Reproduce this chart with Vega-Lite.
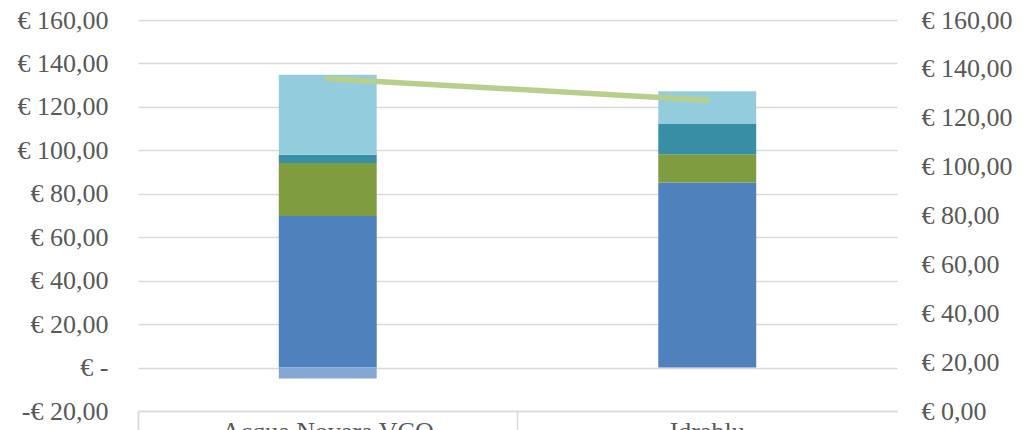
{
  "$schema": "https://vega.github.io/schema/vega-lite/v6.json",
  "autosize": {"type": "none"},
  "width": 759,
  "height": 391,
  "padding": {"left": 138, "top": 20, "right": 134, "bottom": 19},
  "background": "white",
  "config": {
    "view": {"stroke": null},
    "font": "Liberation Serif",
    "axis": {"labelFont": "Liberation Serif", "labelColor": "#595959", "labelFontSize": 26, "titleFont": "Liberation Serif"}
  },
  "datasets": {
    "bars": [
      {"ente": "Acqua Novara VCO", "serie": "Serie 1", "ord": 1, "valore": 69.8},
      {"ente": "Acqua Novara VCO", "serie": "Serie 2", "ord": 2, "valore": 24.4},
      {"ente": "Acqua Novara VCO", "serie": "Serie 3", "ord": 3, "valore": 3.75},
      {"ente": "Acqua Novara VCO", "serie": "Serie 4", "ord": 4, "valore": 36.85},
      {"ente": "Acqua Novara VCO", "serie": "Serie 5", "ord": 5, "valore": -5.0},
      {"ente": "Idrablu", "serie": "Serie 1", "ord": 1, "valore": 85.2},
      {"ente": "Idrablu", "serie": "Serie 2", "ord": 2, "valore": 13.0},
      {"ente": "Idrablu", "serie": "Serie 3", "ord": 3, "valore": 14.15},
      {"ente": "Idrablu", "serie": "Serie 4", "ord": 4, "valore": 14.85},
      {"ente": "Idrablu", "serie": "Serie 5", "ord": 5, "valore": 0}
    ],
    "totale": [
      {"ente": "Acqua Novara VCO", "totale": 136.0},
      {"ente": "Idrablu", "totale": 127.2}
    ]
  },
  "layer": [
    {
      "data": {"name": "bars"},
      "mark": {"type": "bar", "width": {"band": 0.258}},
      "encoding": {
        "x": {
          "field": "ente", "type": "nominal", "sort": null,
          "scale": {"paddingInner": 0, "paddingOuter": 0},
          "axis": {
            "title": null, "labelAngle": 0, "domain": true, "domainColor": "#d9d9d9", "domainWidth": 1.5,
            "ticks": true, "bandPosition": 0, "tickExtra": true, "tickSize": 20, "tickColor": "#d9d9d9", "tickWidth": 1.5,
            "labelPadding": -13, "labelBaseline": "top", "labelLimit": 500, "grid": false
          }
        },
        "y": {
          "field": "valore", "type": "quantitative", "stack": "zero",
          "scale": {"domain": [-20, 160], "nice": false, "zero": false},
          "axis": {
            "title": null, "values": [-20, 0, 20, 40, 60, 80, 100, 120, 140, 160],
            "grid": true, "gridColor": "#d9d9d9", "gridWidth": 1.5,
            "ticks": false, "domain": false, "labelPadding": 30,
            "labelExpr": "datum.value == 0 ? '€ -\u2007\u00a0' : (datum.value < 0 ? '-€ ' : '€ ') + replace(format(abs(datum.value), '.2f'), '.', ',')"
          }
        },
        "color": {
          "field": "serie", "type": "nominal", "legend": null,
          "scale": {"domain": ["Serie 1", "Serie 2", "Serie 3", "Serie 4", "Serie 5"],
                    "range": ["#4f81bd", "#7f9c41", "#378ea5", "#93cddd", "#84a8d3"]}
        },
        "order": {"field": "ord", "type": "quantitative"}
      }
    },
    {
      "data": {"name": "totale"},
      "mark": {"type": "line", "color": "#b8cf8c", "strokeWidth": 5.5, "strokeCap": "round"},
      "encoding": {
        "x": {"field": "ente", "type": "nominal", "sort": null},
        "y": {
          "field": "totale", "type": "quantitative",
          "scale": {"domain": [0, 160], "nice": false},
          "axis": {
            "title": null, "orient": "right", "values": [0, 20, 40, 60, 80, 100, 120, 140, 160],
            "grid": false, "ticks": false, "domain": false, "labelPadding": 24,
            "labelExpr": "'€ ' + replace(format(datum.value, '.2f'), '.', ',')"
          }
        }
      }
    }
  ],
  "resolve": {"scale": {"y": "independent"}}
}
